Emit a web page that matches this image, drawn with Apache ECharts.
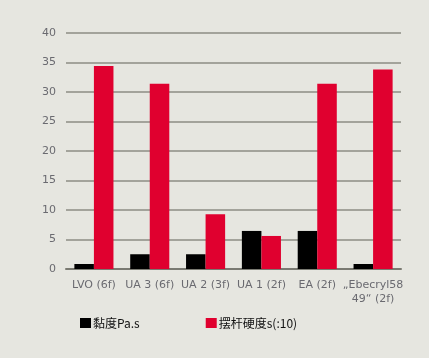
<!DOCTYPE html>
<html><head><meta charset="utf-8">
<script src="https://cdn.jsdelivr.net/npm/echarts@6/dist/echarts.min.js"></script>
<style>html,body{margin:0;padding:0;background:#e6e6e0;}#c{width:429px;height:358px;}</style>
</head><body><div id="c"></div>
<script>
const categories = ['LVO (6f)', 'UA 3 (6f)', 'UA 2 (3f)', 'UA 1 (2f)', 'EA (2f)', '„Ebecryl58\n49“ (2f)'];
const viscosity = [0.85, 2.5, 2.5, 6.45, 6.45, 0.85];
const hardness = [34.4, 31.4, 9.3, 5.6, 31.4, 33.8];
const seriesNames = ['黏度Pa.s', '摆杆硬度s(:10)'];
const yTicks = {min: 0, max: 40, interval: 5};

const chart = echarts.init(document.getElementById('c'));
chart.setOption({
  backgroundColor: '#e6e6e0',
  animation: false,
  textStyle: {fontFamily: 'DejaVu Sans'},
  grid: {left: 66, right: 28, top: 33, bottom: 89, containLabel: false},
  legend: {
    left: 75, top: 312, itemWidth: 11, itemHeight: 10, itemGap: 66,
    icon: 'rect',
    textStyle: {color: '#111', fontSize: 12, fontFamily: 'Noto Sans CJK SC', padding: [0,0,0,-3]},
    data: seriesNames
  },
  xAxis: {
    type: 'category', data: categories,
    axisLine: {lineStyle: {color: '#7a7a72', width: 2}},
    axisTick: {show: false},
    axisLabel: {color: '#6a6a70', fontSize: 11, margin: 9, interval: 0, lineHeight: 14}
  },
  yAxis: {
    type: 'value', min: yTicks.min, max: yTicks.max, interval: yTicks.interval,
    axisLine: {show: false}, axisTick: {show: false},
    axisLabel: {color: '#6a6a70', fontSize: 11, margin: 10},
    splitLine: {lineStyle: {color: '#8c8c84', width: 1.5}}
  },
  series: [
    {name: seriesNames[0], type: 'bar', data: viscosity, itemStyle: {color: '#000000'}, barGap: '0%', barCategoryGap: '30%'},
    {name: seriesNames[1], type: 'bar', data: hardness, itemStyle: {color: '#e0002f'}, barGap: '0%', barCategoryGap: '30%'}
  ]
});
</script></body></html>
